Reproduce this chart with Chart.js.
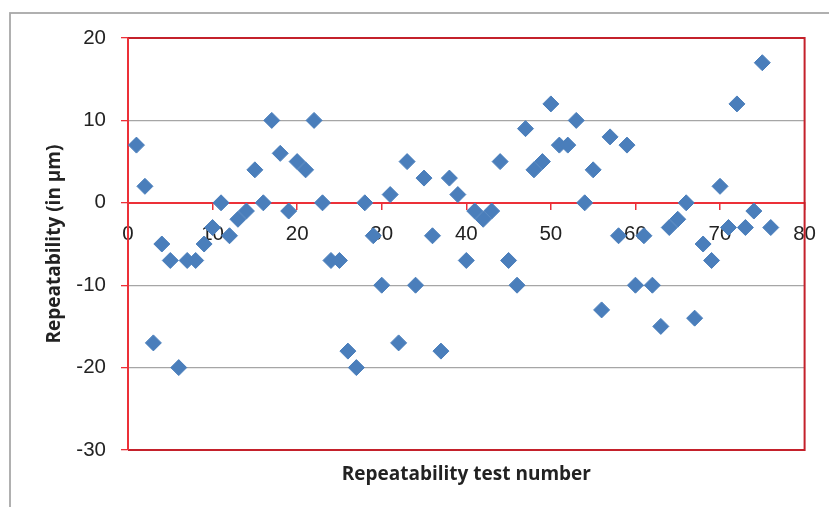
<!DOCTYPE html>
<html>
<head>
<meta charset="utf-8">
<script src="https://cdn.jsdelivr.net/npm/chart.js@4/dist/chart.umd.min.js"></script>
<style>
  html, body { margin: 0; padding: 0; background: #fff; }
  #wrap { width: 829px; height: 507px; position: relative; }
</style>
</head>
<body>
<div id="wrap"><canvas id="repChart"></canvas></div>
<script>
// test numbers and measured repeatability (µm)
const testNumbers = [
  1, 2, 3, 4, 5, 6, 7, 8, 9, 10, 11, 12, 13, 14, 15, 16, 17, 18, 19, 20,
  21, 22, 23, 24, 25, 26, 27, 28, 29, 30, 31, 32, 33, 34, 35, 36, 37, 38, 39, 40,
  41, 42, 43, 44, 45, 46, 47, 48, 49, 50, 51, 52, 53, 54, 55, 56, 57, 58, 59, 60,
  61, 62, 63, 64, 65, 66, 67, 68, 69, 70, 71, 72, 73, 74, 75, 76
];
const repeatability = [
  7, 2, -17, -5, -7, -20, -7, -7, -5, -3, 0, -4, -2, -1, 4, 0, 10, 6, -1, 5,
  4, 10, 0, -7, -7, -18, -20, 0, -4, -10, 1, -17, 5, -10, 3, -4, -18, 3, 1, -7,
  -1, -2, -1, 5, -7, -10, 9, 4, 5, 12, 7, 7, 10, 0, 4, -13, 8, -4, 7, -10,
  -4, -10, -15, -3, -2, 0, -14, -5, -7, 2, -3, 12, -3, -1, 17, -3
];
const xTicks = [0, 10, 20, 30, 40, 50, 60, 70, 80];
const yTicks = [20, 10, 0, -10, -20, -30];

const points = testNumbers.map((x, i) => ({ x: x, y: repeatability[i] }));

const textColor = '#222222';
const axisRed = '#ec3038';
const frameRed = '#c4212b';

// Excel-style frames: outer chart border and plot area border
const framePlugin = {
  id: 'frames',
  beforeDraw(chart) {
    const c = chart.ctx;
    c.save();
    c.strokeStyle = '#a8a8a8';
    c.lineWidth = 1.8;
    c.strokeRect(10, 13, 900, 600);
    c.restore();
  },
  beforeDatasetsDraw(chart) {
    const a = chart.chartArea;
    const c = chart.ctx;
    c.save();
    c.strokeStyle = frameRed;
    c.lineWidth = 2;
    c.beginPath();
    c.moveTo(a.left, a.top);
    c.lineTo(a.right, a.top);
    c.lineTo(a.right, a.bottom);
    c.lineTo(a.left, a.bottom);
    c.stroke();
    // left axis line on top in bright red
    c.strokeStyle = axisRed;
    c.beginPath();
    c.moveTo(a.left, a.top);
    c.lineTo(a.left, a.bottom);
    c.stroke();
    c.restore();
  }
};

const ctx = document.getElementById('repChart').getContext('2d');
const repChart = new Chart(ctx, {
  type: 'scatter',
  data: {
    datasets: [{
      label: 'Repeatability',
      data: points,
      pointStyle: 'rectRot',
      pointRadius: 8,
      pointHoverRadius: 8,
      backgroundColor: '#4a7ebb',
      borderColor: '#4a7ebb',
      pointBorderWidth: 1
    }]
  },
  options: {
    responsive: true,
    maintainAspectRatio: false,
    animation: false,
    layout: { padding: { left: 0, top: 38, right: 24, bottom: 0 } },
    plugins: {
      legend: { display: false },
      tooltip: { enabled: false }
    },
    scales: {
      x: {
        type: 'linear',
        position: { y: 0 },
        min: 0,
        max: 80,
        afterBuildTicks: (scale) => { scale.ticks = xTicks.map(v => ({ value: v })); },
        ticks: {
          color: textColor,
          padding: 13,
          font: { family: 'Liberation Sans', size: 20.5 }
        },
        grid: {
          drawOnChartArea: false,
          color: axisRed,
          tickLength: 6,
          lineWidth: 1.5
        },
        border: { color: axisRed, width: 2 }
      },
      x2: {
        type: 'linear',
        position: 'bottom',
        min: 0,
        max: 80,
        ticks: { display: false },
        grid: { display: false, drawTicks: false },
        border: { display: false },
        title: {
          display: true,
          text: 'Repeatability test number',
          color: textColor,
          padding: { top: 13.6, bottom: 20.6 },
          font: { family: 'Open Sans', size: 19, weight: 'bold' }
        }
      },
      y: {
        type: 'linear',
        min: -30,
        max: 20,
        afterBuildTicks: (scale) => { scale.ticks = yTicks.map(v => ({ value: v })); },
        afterFit: (scale) => { scale.width = 128; },
        ticks: {
          color: textColor,
          padding: 15,
          font: { family: 'Liberation Sans', size: 20.5 }
        },
        grid: {
          color: (c) => (c.tick && (c.tick.value === 10 || c.tick.value === -10 || c.tick.value === -20)) ? '#a6a6a6' : 'rgba(0,0,0,0)',
          tickColor: axisRed,
          tickLength: 7,
          lineWidth: 1.3
        },
        border: { color: axisRed, width: 2 },
        title: {
          display: true,
          text: 'Repeatability (in µm)',
          color: textColor,
          padding: { top: 43.6, bottom: 0 },
          font: { family: 'Open Sans', size: 19, weight: 'bold' }
        }
      }
    }
  },
  plugins: [framePlugin]
});
</script>
</body>
</html>
